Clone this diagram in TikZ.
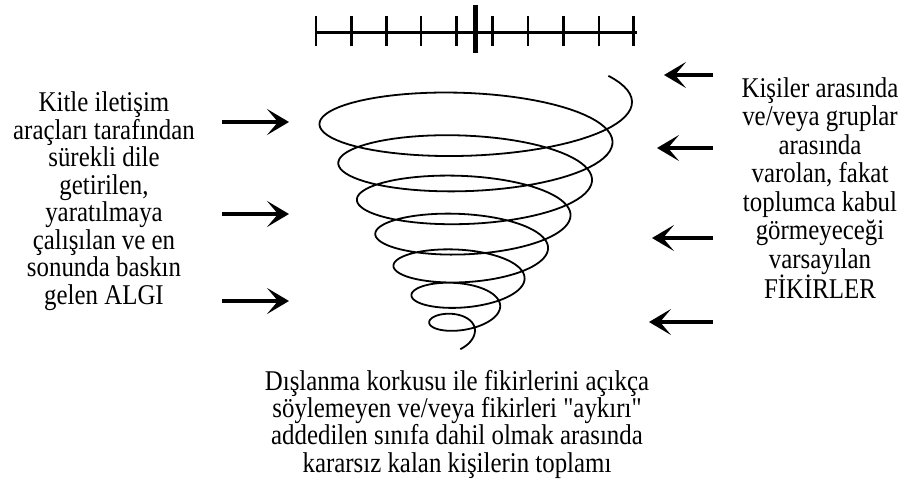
\documentclass[tikz,border=0pt]{standalone}
\usepackage{fontspec}
\setmainfont{Liberation Serif}[FakeStretch=0.87, Ligatures=TeXOff]
\usepackage{tikz}
\usetikzlibrary{positioning, arrows.meta}

\begin{document}
\begin{tikzpicture}[
    x=1pt, y=-1pt,
    txt/.style={
        align=center,
        inner sep=0pt,
        font=\fontsize{28.6}{27.5}\selectfont,
    },
    pointer/.style={-{Stealth[length=22pt, width=26pt, inset=11pt]}, line width=4pt},
    coil/.style={line width=1.8pt, line join=round},
    tick/.style={line width=2.6pt},
    midtick/.style={line width=5pt}
]
\useasboundingbox (0,0) rectangle (907,500);

\node[txt] (Algi) at (104,201.4) {%
  Kitle iletişim\\
  araçları tarafından\\
  sürekli dile\\
  getirilen,\\
  yaratılmaya\\
  çalışılan ve en\\
  sonunda baskın\\
  gelen ALGI%
};
\node[txt, font=\fontsize{28.6}{28.5}\selectfont] (Fikir) at (820,188) {%
  Kişiler arasında\\
  ve/veya gruplar\\
  arasında\\
  varolan, fakat\\
  toplumca kabul\\
  görmeyeceği\\
  varsayılan\\
  FİKİRLER%
};
\node[txt, font=\fontsize{28.6}{27.3}\selectfont] (Toplam) at (457,424.3) {%
  Dışlanma korkusu ile fikirlerini açıkça\\
  söylemeyen ve/veya fikirleri "aykırı"\\
  addedilen sınıfa dahil olmak arasında\\
  kararsız kalan kişilerin toplamı%
};

\coordinate (ScaleL) at (316,33);
\coordinate (ScaleR) at (637,33);
\draw[line width=3pt] (ScaleL) -- (ScaleR);
\foreach \x in {316,351.5,386.5,421,456.5,492.5,528,563.5,599,633.5}
  \draw[tick] (\x,16) -- (\x,46);
\draw[midtick] (475,5) -- (475,53);

\draw[coil] plot[domain=-0.09:7.2, samples=600, variable=\s]
  ({471-0.3*\s*\s + (161-19*\s-0.2*\s*\s)*cos(360*\s)},
   {103+33*\s+1.2*\s*(7-\s) + (0.22*(161-19*\s-0.2*\s*\s)+8)*sin(360*\s)});

\foreach \i/\y in {1/122,2/214,3/301} {
  \coordinate (LT\i) at (222,\y);
  \coordinate (LH\i) at (289,\y);
  \draw[pointer] (LT\i) -- (LH\i);
}
\foreach \i/\y/\h in {1/75/664,2/148/657,3/238/652,4/322/649} {
  \coordinate (RT\i) at (713,\y);
  \coordinate (RH\i) at (\h,\y);
  \draw[pointer] (RT\i) -- (RH\i);
}
\end{tikzpicture}
\end{document}
